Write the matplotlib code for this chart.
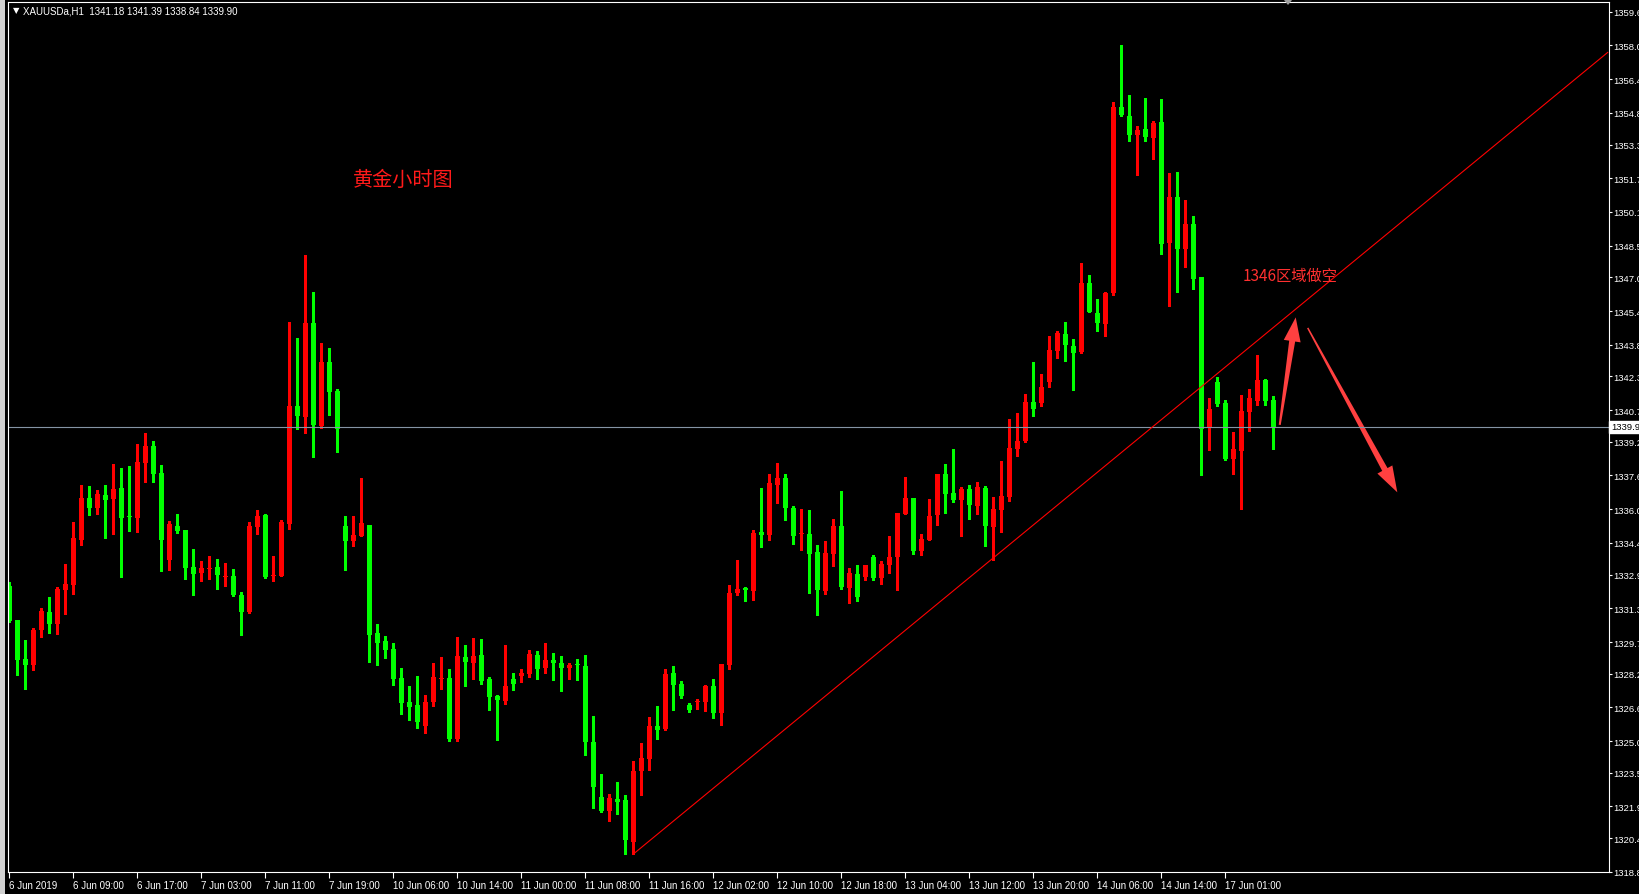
import matplotlib
matplotlib.use("Agg")
import numpy as np
import matplotlib.pyplot as plt
from matplotlib.patches import Polygon, Rectangle
from matplotlib.transforms import IdentityTransform

plt.rcParams['font.family'] = ['Liberation Sans', 'Noto Sans CJK SC', 'DejaVu Sans']

# XAUUSD H1 candles (red = up, green = down)
opens = [
    1332.37, 1330.75, 1328.90, 1328.63, 1330.29, 1331.13, 1330.56, 1332.19, 1332.42, 1334.56,
    1336.53, 1336.08, 1336.68, 1336.50, 1337.01, 1335.68, 1335.60, 1338.21, 1339.00, 1337.72,
    1333.61, 1335.21, 1335.02, 1333.26, 1332.99, 1333.18, 1333.26, 1332.80, 1332.83, 1331.93,
    1331.12, 1335.17, 1335.72, 1332.83, 1332.85, 1335.31, 1340.89, 1340.39, 1344.83, 1339.96,
    1342.98, 1341.61, 1335.20, 1334.51, 1334.74, 1335.25, 1330.13, 1329.75, 1329.37, 1327.99,
    1326.85, 1326.71, 1325.70, 1326.87, 1327.94, 1327.99, 1325.10, 1328.99, 1328.72, 1329.09,
    1327.95, 1327.16, 1326.92, 1327.95, 1328.11, 1328.19, 1329.09, 1328.49, 1328.85, 1328.71,
    1328.49, 1328.63, 1328.56, 1324.98, 1322.35, 1321.70, 1322.26, 1322.21, 1320.20, 1323.60,
    1324.17, 1325.72, 1325.59, 1328.23, 1327.71, 1326.71, 1326.84, 1326.87, 1327.62, 1326.35,
    1328.63, 1332.03, 1332.26, 1332.12, 1334.92, 1334.78, 1337.15, 1337.48, 1336.06, 1334.81,
    1334.83, 1333.97, 1332.12, 1333.88, 1335.20, 1332.26, 1332.93, 1332.79, 1333.73, 1332.74,
    1333.35, 1333.73, 1335.77, 1336.53, 1334.02, 1334.54, 1335.73, 1337.67, 1336.77, 1336.44,
    1336.96, 1336.15, 1337.01, 1335.16, 1335.96, 1336.58, 1338.86, 1339.24, 1341.09, 1341.04,
    1342.03, 1343.50, 1344.31, 1343.74, 1343.45, 1346.73, 1345.30, 1344.78, 1346.25, 1355.07,
    1354.65, 1353.75, 1354.03, 1353.60, 1354.36, 1348.62, 1350.81, 1348.34, 1349.52, 1347.01,
    1339.85, 1342.03, 1341.03, 1338.38, 1338.76, 1340.61, 1341.13, 1342.13, 1341.18,
]
highs = [
    1332.56, 1330.75, 1329.80, 1330.37, 1331.30, 1331.82, 1332.30, 1333.40, 1335.40, 1337.15,
    1337.09, 1336.90, 1337.15, 1338.15, 1337.96, 1338.05, 1339.10, 1339.62, 1339.24, 1338.10,
    1335.44, 1335.78, 1335.02, 1334.11, 1333.55, 1333.78, 1333.64, 1333.47, 1333.17, 1332.07,
    1335.38, 1335.96, 1335.77, 1333.78, 1335.49, 1344.88, 1344.12, 1348.06, 1346.30, 1343.88,
    1343.65, 1341.70, 1335.68, 1335.68, 1337.48, 1335.25, 1330.55, 1329.98, 1329.65, 1328.46,
    1327.61, 1328.08, 1327.18, 1328.70, 1328.99, 1328.42, 1329.94, 1329.56, 1329.89, 1329.85,
    1328.04, 1327.20, 1329.56, 1328.23, 1328.42, 1329.32, 1329.28, 1329.66, 1329.18, 1329.04,
    1328.71, 1328.90, 1329.09, 1326.19, 1323.44, 1322.49, 1323.06, 1322.44, 1324.07, 1324.91,
    1326.15, 1326.67, 1328.42, 1328.56, 1327.85, 1326.81, 1327.00, 1327.66, 1327.95, 1328.66,
    1332.41, 1333.59, 1332.31, 1335.01, 1337.01, 1337.67, 1338.19, 1337.67, 1336.15, 1336.01,
    1335.96, 1334.30, 1334.49, 1335.54, 1336.86, 1333.21, 1333.35, 1333.35, 1333.83, 1333.54,
    1334.73, 1335.82, 1337.53, 1336.53, 1334.83, 1336.49, 1337.67, 1338.15, 1338.86, 1337.06,
    1337.15, 1337.29, 1337.10, 1336.58, 1338.29, 1340.28, 1340.57, 1341.47, 1342.99, 1342.42,
    1344.21, 1344.45, 1344.88, 1344.07, 1347.67, 1347.11, 1345.97, 1346.30, 1355.31, 1358.02,
    1355.64, 1354.17, 1355.50, 1354.41, 1355.45, 1351.94, 1351.99, 1350.66, 1349.90, 1347.01,
    1341.27, 1342.27, 1341.18, 1339.66, 1341.42, 1341.70, 1343.32, 1342.18, 1341.39,
]
lows = [
    1330.67, 1328.14, 1327.47, 1328.39, 1329.96, 1330.15, 1330.10, 1331.05, 1332.00, 1334.32,
    1335.74, 1335.79, 1334.65, 1334.84, 1332.80, 1334.98, 1334.94, 1337.31, 1337.31, 1333.09,
    1333.13, 1334.89, 1332.71, 1331.95, 1332.61, 1332.71, 1332.23, 1332.36, 1331.90, 1330.05,
    1331.09, 1334.84, 1332.75, 1332.61, 1332.81, 1335.07, 1339.82, 1339.63, 1338.49, 1339.87,
    1340.48, 1338.73, 1333.13, 1334.27, 1334.71, 1328.77, 1328.62, 1328.96, 1327.67, 1326.30,
    1326.00, 1325.60, 1325.40, 1326.68, 1327.48, 1325.00, 1325.00, 1327.63, 1327.96, 1327.73,
    1326.49, 1325.07, 1326.78, 1327.44, 1327.82, 1328.06, 1327.96, 1328.25, 1327.92, 1327.39,
    1327.96, 1327.92, 1324.36, 1321.84, 1321.65, 1321.20, 1321.54, 1319.64, 1319.64, 1322.46,
    1323.65, 1325.12, 1325.54, 1326.49, 1327.06, 1326.40, 1326.54, 1326.45, 1326.11, 1325.78,
    1328.44, 1331.93, 1331.65, 1331.69, 1334.21, 1334.54, 1336.30, 1335.49, 1334.35, 1334.07,
    1332.03, 1331.00, 1331.98, 1333.31, 1332.22, 1331.55, 1331.65, 1332.64, 1332.64, 1332.45,
    1332.97, 1332.17, 1335.77, 1333.88, 1333.83, 1334.54, 1335.25, 1335.82, 1336.34, 1334.73,
    1335.54, 1335.77, 1334.26, 1333.60, 1334.92, 1336.39, 1338.53, 1339.19, 1340.42, 1340.90,
    1341.79, 1343.17, 1343.03, 1341.65, 1343.40, 1345.35, 1344.45, 1344.21, 1346.16, 1354.65,
    1353.46, 1351.85, 1353.46, 1352.61, 1348.10, 1345.63, 1346.30, 1347.48, 1346.44, 1337.62,
    1338.80, 1340.89, 1338.33, 1337.66, 1336.00, 1339.71, 1340.94, 1340.94, 1338.84,
]
closes = [
    1330.71, 1328.86, 1328.63, 1330.27, 1331.17, 1330.56, 1332.22, 1332.45, 1334.64, 1336.53,
    1336.08, 1336.72, 1336.46, 1336.96, 1335.60, 1335.65, 1338.24, 1339.00, 1337.69, 1334.56,
    1335.30, 1334.97, 1333.23, 1332.94, 1333.21, 1333.21, 1332.90, 1332.83, 1331.95, 1331.14,
    1335.20, 1335.68, 1332.80, 1332.86, 1335.39, 1340.89, 1340.44, 1344.83, 1340.01, 1342.98,
    1341.57, 1339.82, 1334.51, 1334.77, 1335.34, 1330.05, 1329.67, 1329.33, 1327.96, 1326.82,
    1326.63, 1325.90, 1326.85, 1328.04, 1327.97, 1325.10, 1329.03, 1328.77, 1329.03, 1327.87,
    1327.11, 1326.97, 1327.62, 1327.73, 1328.23, 1329.13, 1328.44, 1328.85, 1328.72, 1328.49,
    1328.61, 1328.60, 1324.98, 1322.84, 1321.70, 1322.30, 1322.13, 1320.30, 1323.60, 1324.20,
    1325.72, 1325.54, 1328.19, 1327.68, 1327.16, 1326.49, 1326.87, 1327.62, 1326.35, 1328.66,
    1332.03, 1332.22, 1332.17, 1334.87, 1334.79, 1337.24, 1337.48, 1336.06, 1334.73, 1334.84,
    1333.88, 1332.17, 1333.92, 1335.20, 1332.31, 1332.97, 1331.84, 1333.35, 1332.74, 1333.40,
    1333.73, 1335.82, 1336.53, 1334.02, 1334.59, 1335.68, 1337.67, 1336.72, 1336.44, 1336.96,
    1336.20, 1337.06, 1335.21, 1336.01, 1336.63, 1338.91, 1339.24, 1341.09, 1340.76, 1341.80,
    1343.55, 1344.35, 1343.78, 1343.40, 1346.73, 1345.35, 1344.83, 1346.25, 1355.07, 1354.70,
    1353.75, 1353.98, 1353.65, 1354.32, 1348.58, 1350.81, 1348.34, 1349.52, 1346.92, 1339.80,
    1340.75, 1340.99, 1338.38, 1338.85, 1340.66, 1341.28, 1342.13, 1341.13, 1339.90,
]

x_labels = ['6 Jun 2019', '6 Jun 09:00', '6 Jun 17:00', '7 Jun 03:00', '7 Jun 11:00',
            '7 Jun 19:00', '10 Jun 06:00', '10 Jun 14:00', '11 Jun 00:00', '11 Jun 08:00',
            '11 Jun 16:00', '12 Jun 02:00', '12 Jun 10:00', '12 Jun 18:00', '13 Jun 04:00',
            '13 Jun 12:00', '13 Jun 20:00', '14 Jun 06:00', '14 Jun 14:00', '17 Jun 01:00']
y_labels = [1359.6, 1358.0, 1356.4, 1354.8, 1353.3, 1351.7, 1350.1, 1348.5, 1347.0,
            1345.4, 1343.8, 1342.3, 1340.7, 1339.2, 1337.6, 1336.0, 1334.4, 1332.9,
            1331.3, 1329.7, 1328.2, 1326.6, 1325.0, 1323.5, 1321.9, 1320.4, 1318.8]

bid = 1339.90
trend_start = (78, 1319.64)
trend_end = (199.8, 1357.67)
up_arrow = ((158.8, 1340.0), (160.8, 1345.1))
down_arrow = ((162.3, 1344.6), (173.5, 1336.8))

W, H = 1640, 895
fig = plt.figure(figsize=(W / 100, H / 100), dpi=100, facecolor='black')
ax = fig.add_axes([8 / W, 1 - 873 / H, 1601 / W, 870 / H])
ax.set_facecolor('black')
ax.set_xlim(-0.1625, 199.96)
ax.set_ylim(1318.79, 1360.06)

# window border on the left
fig.patches.append(Rectangle((0, 0), 5 / W, 1, transform=fig.transFigure,
                             facecolor='#d0d0d0', edgecolor='none'))
# chart shift marker at the top
fig.patches.append(Polygon([[1284 / W, 1 - 1 / H], [1292 / W, 1 - 1 / H], [1288 / W, 1 - 6 / H]],
                           closed=True, transform=fig.transFigure,
                           facecolor='#a0a0a0', edgecolor='none'))

o = np.array(opens)
h = np.array(highs)
l = np.array(lows)
c = np.array(closes)
x = np.arange(len(o))
colors = np.where(c >= o, '#ff0000', '#00ff00')

ax.vlines(x, l, h, colors=colors, linewidth=0.8, antialiased=False)
ax.bar(x, np.maximum(np.abs(c - o), 0.05), bottom=np.minimum(o, c), width=0.625,
       color=colors, linewidth=0, antialiased=False)

# bid line and trend line
ax.axhline(bid, color='#8494a4', linewidth=0.8)
ax.plot([trend_start[0], trend_end[0]], [trend_start[1], trend_end[1]],
        color='#ff0000', linewidth=0.8)

# axes styling
for s in ax.spines.values():
    s.set_color('white')
    s.set_linewidth(0.8)
ax.set_xticks(np.arange(0, len(o), 8))
ax.set_xticklabels(x_labels, ha='left')
ax.tick_params(axis='x', colors='white', direction='out', length=4, width=0.8,
               labelsize=7, pad=2)
ax.yaxis.tick_right()
ax.set_yticks(y_labels)
ax.set_yticklabels(['%.1f' % v for v in y_labels])
ax.tick_params(axis='y', colors='white', direction='out', length=2.2, width=0.8,
               labelsize=6.8, pad=1)

ax.annotate('%.1f' % bid, xy=(1.0, bid), xycoords=ax.get_yaxis_transform(),
            xytext=(1.5, 0), textcoords='offset points', ha='left', va='center',
            fontsize=6.8, color='black',
            bbox=dict(boxstyle='square,pad=0.2', fc='white', ec='white'))

# header
fig.text(13 / W, 1 - 11 / H, '\u25bc', color='white', fontsize=6, va='center',
         family=['DejaVu Sans'])
fig.text(23 / W, 1 - 11 / H, 'XAUUSDa,H1  1341.18 1341.39 1338.84 1339.90',
         color='white', fontsize=7, va='center')

# annotations
ax.text(43.0, 1351.65, '黄金小时图', color='#ff1a1a', fontsize=14.5, va='center',
        family=['Noto Sans CJK SC'])
ax.text(154.2, 1347.1, '1346区域做空', color='#ff3030', fontsize=11, va='center',
        family=['Noto Sans CJK SC', 'DejaVu Sans'])


def draw_arrow(tail, tip, w_tail, w_neck, w_head, head_len, color):
    p0 = ax.transData.transform(tail)
    p1 = ax.transData.transform(tip)
    d = p1 - p0
    u = d / np.hypot(*d)
    n = np.array([-u[1], u[0]])
    base = p1 - u * head_len
    pts = [p0 + n * w_tail / 2, base + n * w_neck / 2, base + n * w_head / 2, p1,
           base - n * w_head / 2, base - n * w_neck / 2, p0 - n * w_tail / 2]
    ax.add_patch(Polygon(pts, closed=True, transform=IdentityTransform(),
                         facecolor=color, edgecolor='none'))


draw_arrow(up_arrow[0], up_arrow[1], 2, 6, 17, 24, '#ff4040')
draw_arrow(down_arrow[0], down_arrow[1], 1.5, 6, 17, 26, '#ff4040')

fig.savefig('out.png', dpi=100, facecolor='black')
